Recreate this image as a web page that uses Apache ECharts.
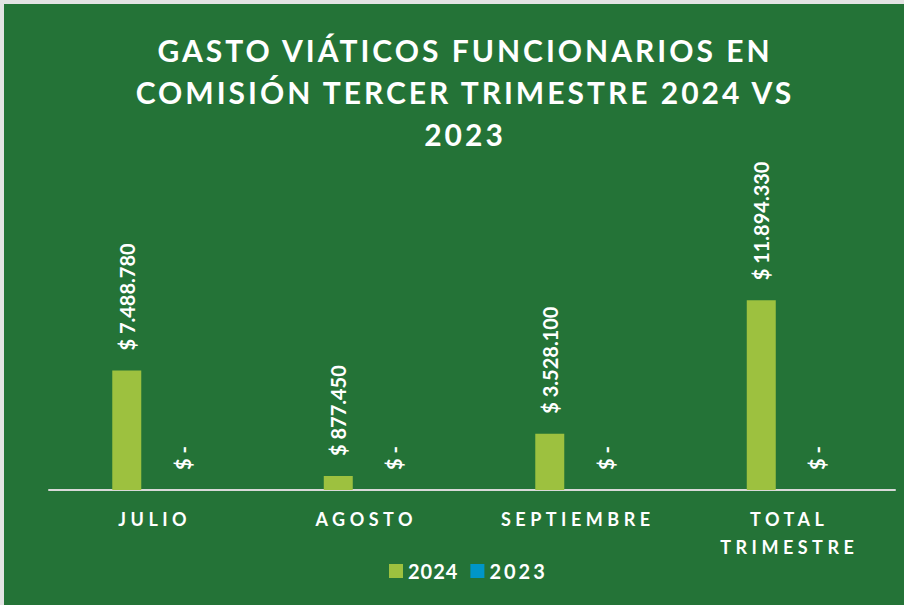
<!DOCTYPE html>
<html>
<head>
<meta charset="utf-8">
<title>Gasto viáticos</title>
<script src="https://cdn.jsdelivr.net/npm/echarts@6/dist/echarts.min.js"></script>
<style>
  html, body { margin: 0; padding: 0; background: #ffffff; }
  #frame { position: absolute; left: 0; top: 0; width: 904px; height: 605px; background: #e3e3e3; }
  #main { position: absolute; left: 4px; top: 4px; width: 900px; height: 601px; }
</style>
</head>
<body>
<div id="frame"></div>
<div id="main"></div>
<script>
// datos
var titleLines = ['GASTO VIÁTICOS FUNCIONARIOS EN', 'COMISIÓN TERCER TRIMESTRE 2024 VS', '2023'];
var categories = ['JULIO', 'AGOSTO', 'SEPTIEMBRE', 'TOTAL\nTRIMESTRE'];
var seriesNames = ['2024', '2023'];
var values2024 = [7488780, 877450, 3528100, 11894330];
var values2023 = [0, 0, 0, 0];

var green = '#247337';
var lime = '#9dc13f';
var blue = '#0096c8';

function money(v) {
    if (v === 0) return '$ -';
    return '$ ' + String(v).replace(/\B(?=(\d{3})+(?!\d))/g, '.');
}

var myChart = echarts.init(document.getElementById('main'), null, { renderer: 'svg' });

var barLabel = {
    show: true,
    position: 'top',
    distance: 20,
    rotate: 90,
    align: 'left',
    verticalAlign: 'middle',
    color: '#ffffff',
    fontFamily: 'Lato',
    fontWeight: 'bold',
    fontSize: 20,
    formatter: function (p) { return money(p.value); }
};

var option = {
    backgroundColor: green,
    animation: false,
    title: {
        text: titleLines.join('\n'),
        left: 456,
        top: 20,
        textAlign: 'center',
        textStyle: {
            color: '#ffffff',
            fontFamily: 'Lato',
            fontWeight: 'bold',
            fontSize: 30,
            lineHeight: 42
        }
    },
    legend: {
        data: seriesNames,
        left: 380,
        top: 552,
        itemWidth: 14,
        itemHeight: 14,
        itemGap: 16,
        itemTextGap: 4,
        icon: 'rect',
        textStyle: {
            color: '#ffffff',
            fontFamily: 'Lato',
            fontWeight: 'bold',
            fontSize: 20
        }
    },
    grid: {
        left: 45,
        right: 9,
        top: 167,
        bottom: 115
    },
    xAxis: {
        type: 'category',
        data: categories,
        axisLine: { lineStyle: { color: '#d9d9d9', width: 2 } },
        axisTick: { show: false },
        axisLabel: {
            margin: 15,
            color: '#ffffff',
            fontFamily: 'Lato',
            fontWeight: 'bold',
            fontSize: 18,
            lineHeight: 28
        }
    },
    yAxis: {
        type: 'value',
        min: 0,
        max: 20000000,
        show: false,
        splitLine: { show: false }
    },
    series: [
        {
            name: seriesNames[0],
            type: 'bar',
            barWidth: 29,
            barGap: '93%',
            itemStyle: { color: lime },
            label: barLabel,
            data: values2024
        },
        {
            name: seriesNames[1],
            type: 'bar',
            barWidth: 29,
            itemStyle: { color: blue },
            label: barLabel,
            data: values2023
        }
    ]
};
myChart.setOption(option);

// espaciado de letras como en el original
function spaceText() {
    var catLines = categories.join('\n').split('\n');
    document.querySelectorAll('#main text').forEach(function (t) {
        var s = t.textContent;
        if (catLines.indexOf(s) > -1) {
            t.style.letterSpacing = '4.5px';
        } else if (titleLines.indexOf(s) > -1) {
            t.style.letterSpacing = '3px';
        } else if (seriesNames.indexOf(s) > -1) {
            t.style.letterSpacing = '1px';
        }
    });
}
spaceText();
myChart.on('finished', spaceText);
</script>
</body>
</html>
